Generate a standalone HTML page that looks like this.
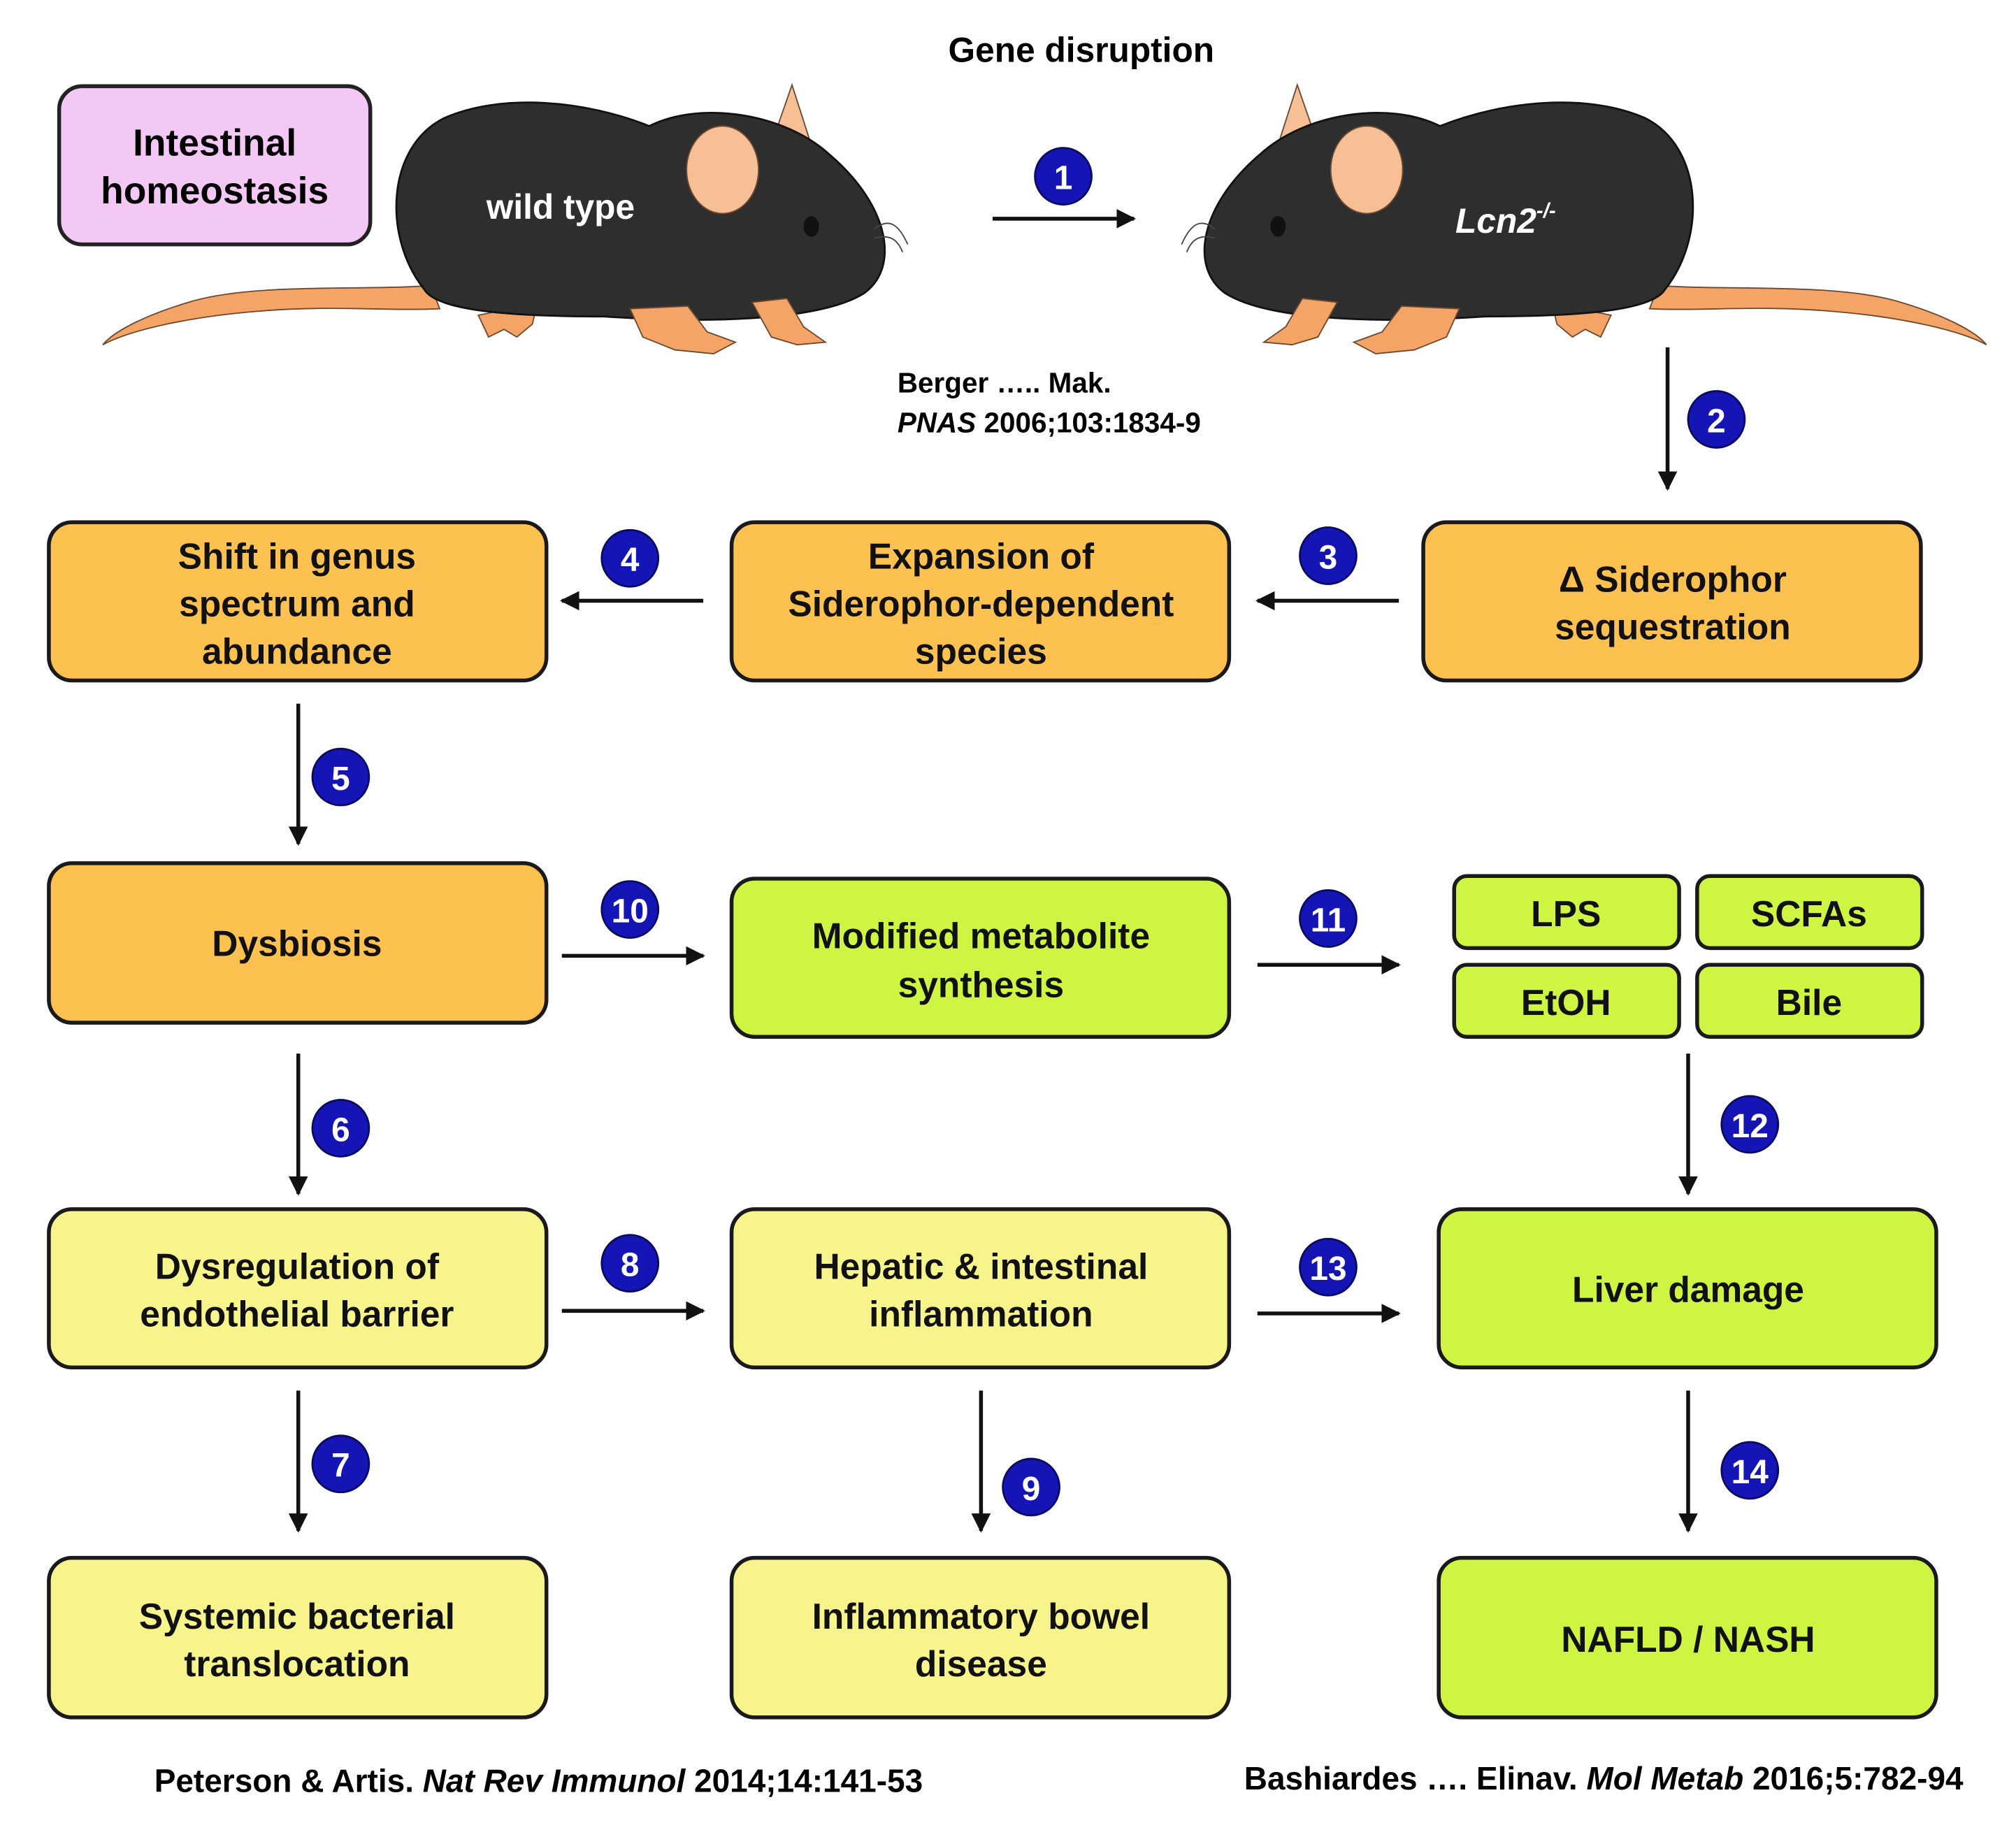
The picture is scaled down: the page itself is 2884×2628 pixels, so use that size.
<!DOCTYPE html>
<html><head><meta charset="utf-8"><style>
html,body{margin:0;padding:0;background:#fff;}
svg{display:block;}
text{font-family:"Liberation Sans",sans-serif;font-weight:bold;}
</style></head><body>
<svg width="2884" height="2628" viewBox="0 0 1568 1428" preserveAspectRatio="none" xmlns="http://www.w3.org/2000/svg">
<defs>
<marker id="ah" viewBox="0 0 10 10" refX="9" refY="5" markerWidth="5" markerHeight="5" orient="auto"><path d="M0,0 L10,5 L0,10 Z" fill="#111"/></marker>
<g id="mouse">
 <path d="M335,222 C280,226 200,220 150,234 C112,245 88,258 80,268 C102,256 150,246 200,242 C260,237 300,242 342,240 Z" fill="#f4a467" stroke="#6a4a30" stroke-width="1"/>
 <path d="M600,112 L616,66 L634,122 Z" fill="#f7bf95" stroke="#6a4a30" stroke-width="1"/>
 <path d="M372,245 L380,262 L392,256 L402,262 L414,252 L418,236 Z" fill="#f4a467" stroke="#6a4a30" stroke-width="1"/>
 <path d="M330,225 C298,185 300,115 345,92 C390,72 455,78 505,98 C545,78 610,88 645,120 C692,160 700,208 672,228 C640,248 560,252 470,246 C400,246 340,242 330,225 Z" fill="#2e2e2e" stroke="#111" stroke-width="1.5"/>
 <path d="M490,240 L500,262 L525,272 L555,275 L572,266 L550,258 L535,238 Z" fill="#f4a467" stroke="#6a4a30" stroke-width="1"/>
 <path d="M585,235 L600,262 L620,268 L642,266 L625,254 L612,232 Z" fill="#f4a467" stroke="#6a4a30" stroke-width="1"/>
 <ellipse cx="562" cy="132" rx="28" ry="34" fill="#f7bf95" stroke="#6a4a30" stroke-width="1"/>
 <ellipse cx="631" cy="176" rx="6" ry="8" fill="#111"/>
 <path d="M680,178 C690,170 698,172 706,190 M680,185 C692,182 698,186 702,196" stroke="#444" fill="none" stroke-width="1"/>
</g>
</defs>

<text x="841" y="48" font-size="27" text-anchor="middle">Gene disruption</text>
<rect x="46" y="67" width="242" height="123" rx="18" fill="#f4c8f4" stroke="#222" stroke-width="3"/>
<text x="167" y="121" font-size="29" text-anchor="middle">Intestinal</text>
<text x="167" y="158" font-size="29" text-anchor="middle">homeostasis</text>

<use href="#mouse"/>
<text x="436" y="170" font-size="27" fill="#fff" text-anchor="middle">wild type</text>
<g transform="translate(1625,0) scale(-1,1)"><use href="#mouse"/></g>
<text x="1132" y="181" font-size="27" fill="#fff" font-style="italic">Lcn2<tspan font-size="16" dy="-12">-/-</tspan></text>

<text x="698" y="305" font-size="22">Berger ….. Mak.</text>
<text x="698" y="336" font-size="22"><tspan font-style="italic">PNAS</tspan> 2006;103:1834-9</text>

<g stroke="#111" stroke-width="3" marker-end="url(#ah)">
<line x1="772" y1="170" x2="882" y2="170"/>
<line x1="1297" y1="270" x2="1297" y2="380"/>
<line x1="1088" y1="467" x2="978" y2="467"/>
<line x1="547" y1="467" x2="437" y2="467"/>
<line x1="232" y1="547" x2="232" y2="656"/>
<line x1="437" y1="743" x2="547" y2="743"/>
<line x1="978" y1="750" x2="1088" y2="750"/>
<line x1="232" y1="819" x2="232" y2="928"/>
<line x1="1313" y1="819" x2="1313" y2="928"/>
<line x1="437" y1="1019" x2="547" y2="1019"/>
<line x1="978" y1="1021" x2="1088" y2="1021"/>
<line x1="232" y1="1081" x2="232" y2="1190"/>
<line x1="763" y1="1081" x2="763" y2="1190"/>
<line x1="1313" y1="1081" x2="1313" y2="1190"/>
</g>

<g font-size="26" text-anchor="middle" fill="#fff">
<g><circle cx="827" cy="137" r="22" fill="#1515b5" stroke="#0a0a60" stroke-width="1.5"/><text x="827" y="147" fill="#fff">1</text></g>
<g><circle cx="1335" cy="326" r="22" fill="#1515b5" stroke="#0a0a60" stroke-width="1.5"/><text x="1335" y="336" fill="#fff">2</text></g>
<g><circle cx="1033" cy="432" r="22" fill="#1515b5" stroke="#0a0a60" stroke-width="1.5"/><text x="1033" y="442" fill="#fff">3</text></g>
<g><circle cx="490" cy="434" r="22" fill="#1515b5" stroke="#0a0a60" stroke-width="1.5"/><text x="490" y="444" fill="#fff">4</text></g>
<g><circle cx="265" cy="604" r="22" fill="#1515b5" stroke="#0a0a60" stroke-width="1.5"/><text x="265" y="614" fill="#fff">5</text></g>
<g><circle cx="490" cy="707" r="22" fill="#1515b5" stroke="#0a0a60" stroke-width="1.5"/><text x="490" y="717" fill="#fff">10</text></g>
<g><circle cx="1033" cy="714" r="22" fill="#1515b5" stroke="#0a0a60" stroke-width="1.5"/><text x="1033" y="724" fill="#fff">11</text></g>
<g><circle cx="265" cy="877" r="22" fill="#1515b5" stroke="#0a0a60" stroke-width="1.5"/><text x="265" y="887" fill="#fff">6</text></g>
<g><circle cx="1361" cy="874" r="22" fill="#1515b5" stroke="#0a0a60" stroke-width="1.5"/><text x="1361" y="884" fill="#fff">12</text></g>
<g><circle cx="490" cy="982" r="22" fill="#1515b5" stroke="#0a0a60" stroke-width="1.5"/><text x="490" y="992" fill="#fff">8</text></g>
<g><circle cx="1033" cy="985" r="22" fill="#1515b5" stroke="#0a0a60" stroke-width="1.5"/><text x="1033" y="995" fill="#fff">13</text></g>
<g><circle cx="265" cy="1138" r="22" fill="#1515b5" stroke="#0a0a60" stroke-width="1.5"/><text x="265" y="1148" fill="#fff">7</text></g>
<g><circle cx="802" cy="1156" r="22" fill="#1515b5" stroke="#0a0a60" stroke-width="1.5"/><text x="802" y="1166" fill="#fff">9</text></g>
<g><circle cx="1361" cy="1143" r="22" fill="#1515b5" stroke="#0a0a60" stroke-width="1.5"/><text x="1361" y="1153" fill="#fff">14</text></g>
</g>

<g stroke="#1a1a1a" stroke-width="3">
<rect x="38" y="406" width="387" height="123" rx="18" fill="#fdc150"/>
<rect x="569" y="406" width="387" height="123" rx="18" fill="#fdc150"/>
<rect x="1107" y="406" width="387" height="123" rx="18" fill="#fdc150"/>
<rect x="38" y="671" width="387" height="124" rx="18" fill="#fdc150"/>
<rect x="569" y="683" width="387" height="123" rx="18" fill="#cdf542"/>
<rect x="1131" y="681" width="175" height="56" rx="10" fill="#cdf542"/>
<rect x="1320" y="681" width="175" height="56" rx="10" fill="#cdf542"/>
<rect x="1131" y="750" width="175" height="56" rx="10" fill="#cdf542"/>
<rect x="1320" y="750" width="175" height="56" rx="10" fill="#cdf542"/>
<rect x="38" y="940" width="387" height="123" rx="18" fill="#f8f48c"/>
<rect x="569" y="940" width="387" height="123" rx="18" fill="#f8f48c"/>
<rect x="1119" y="940" width="387" height="123" rx="18" fill="#cdf542"/>
<rect x="38" y="1211" width="387" height="124" rx="18" fill="#f8f48c"/>
<rect x="569" y="1211" width="387" height="124" rx="18" fill="#f8f48c"/>
<rect x="1119" y="1211" width="387" height="124" rx="18" fill="#cdf542"/>
</g>

<g font-size="28" text-anchor="middle" fill="#111">
<text x="231" y="442">Shift in genus</text>
<text x="231" y="479">spectrum and</text>
<text x="231" y="516">abundance</text>
<text x="763" y="442">Expansion of</text>
<text x="763" y="479">Siderophor-dependent</text>
<text x="763" y="516">species</text>
<text x="1301" y="460">Δ Siderophor</text>
<text x="1301" y="497">sequestration</text>
<text x="231" y="743">Dysbiosis</text>
<text x="763" y="737">Modified metabolite</text>
<text x="763" y="775">synthesis</text>
<text x="1218" y="720">LPS</text>
<text x="1407" y="720">SCFAs</text>
<text x="1218" y="789">EtOH</text>
<text x="1407" y="789">Bile</text>
<text x="231" y="994">Dysregulation of</text>
<text x="231" y="1031">endothelial barrier</text>
<text x="763" y="994">Hepatic &amp; intestinal</text>
<text x="763" y="1031">inflammation</text>
<text x="1313" y="1012">Liver damage</text>
<text x="231" y="1266">Systemic bacterial</text>
<text x="231" y="1303">translocation</text>
<text x="763" y="1266">Inflammatory bowel</text>
<text x="763" y="1303">disease</text>
<text x="1313" y="1284">NAFLD / NASH</text>
</g>

<text x="120" y="1393" font-size="25">Peterson &amp; Artis.  <tspan font-style="italic">Nat Rev Immunol</tspan> 2014;14:141-53</text>
<text x="1527" y="1391" font-size="25" text-anchor="end">Bashiardes  …. Elinav. <tspan font-style="italic">Mol Metab</tspan> 2016;5:782-94</text>
</svg>
</body></html>
